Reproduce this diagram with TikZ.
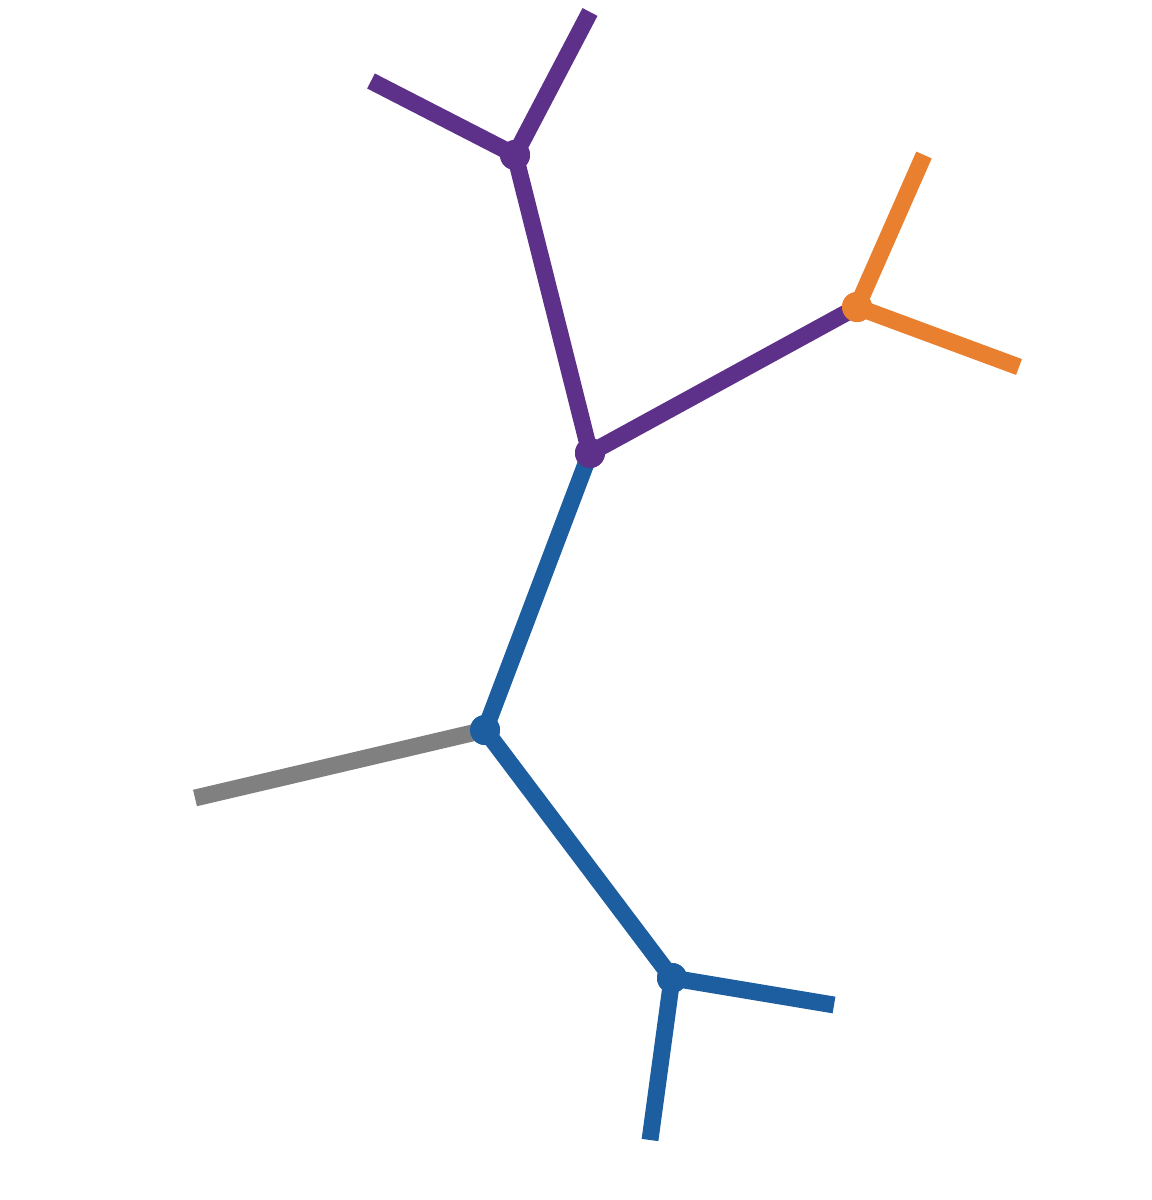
\documentclass[tikz,border=0pt]{standalone}
\usepackage{tikz}
\usetikzlibrary{positioning}

\definecolor{treepurple}{RGB}{93,48,138}
\definecolor{treeorange}{RGB}{232,128,48}
\definecolor{treeblue}{RGB}{28,94,160}
\definecolor{treegray}{RGB}{128,128,128}

\tikzset{
  branch/.style={line width=4.8pt,line cap=butt},
  junction/.style={circle,inner sep=0pt,minimum size=0.3cm},
  tip/.style={inner sep=0pt,minimum size=0pt}
}

\begin{document}
\begin{tikzpicture}[x=0.01cm,y=-0.01cm]
    \useasboundingbox (0,0) rectangle (1151,1200);
    % internal nodes
    \node[junction,fill=treepurple] (P1) at (515,155) {};
    \node[junction,fill=treepurple] (P2) at (590,453) {};
    \node[junction,fill=treeorange] (O) at (857,307) {};
    \node[junction,fill=treeblue] (B1) at (485,730) {};
    \node[junction,fill=treeblue] (B2) at (672,978) {};
    % leaves
    \coordinate (L1) at (371,81);
    \coordinate (L2) at (590,12);
    \coordinate (L3) at (924,155);
    \coordinate (L4) at (1019,367);
    \coordinate (L5) at (195,798);
    \coordinate (L6) at (834,1005);
    \coordinate (L7) at (650,1140);
    \draw[branch,treepurple]
    (P1.center) -- (L1)
    (P1.center) -- (L2)
    (P1.center) -- (P2.center)
    (P2.center) -- (O.center);
    \draw[branch,treeorange]
    (O.center) -- (L3)
    (O.center) -- (L4);
    \draw[branch,treeblue]
    (P2.center) -- (B1.center)
    (B1.center) -- (B2.center)
    (B2.center) -- (L6)
    (B2.center) -- (L7);
    \draw[branch,treegray] (B1.center) -- (L5);
    % dots on top
    \foreach \n/\c in {P1/treepurple,P2/treepurple,O/treeorange,B1/treeblue,B2/treeblue}
      \fill[\c] (\n) circle (0.15cm);
  \end{tikzpicture}
\end{document}
